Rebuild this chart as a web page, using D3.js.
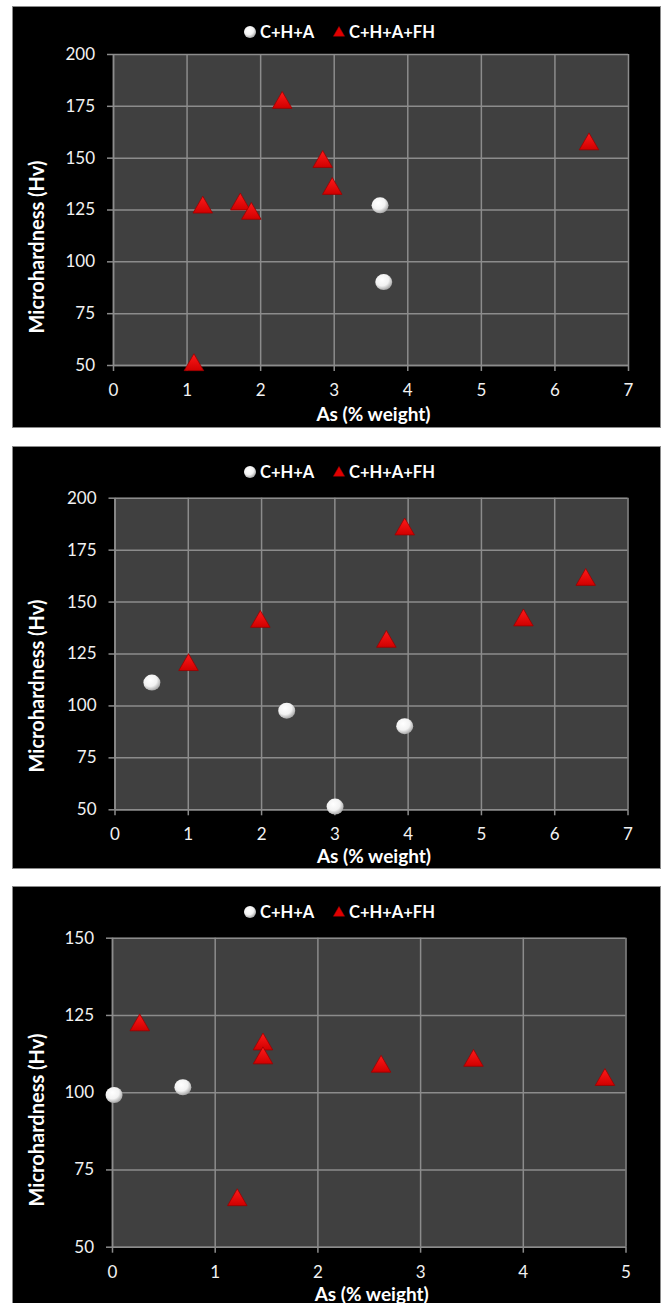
<!DOCTYPE html>
<html>
<head>
<meta charset="utf-8">
<script src="https://cdn.jsdelivr.net/npm/d3@7"></script>
<style>
  body { margin: 0; background: #fff; }
  svg { display: block; }
</style>
</head>
<body>
<div id="chart"></div>
<script>
// legend names
const seriesNames = ["C+H+A", "C+H+A+FH"];

// panel 1
const p1CircleAs = [3.63, 3.68];
const p1CircleHv = [127, 90];
const p1TriAs = [1.1, 1.22, 1.73, 1.88, 2.3, 2.85, 2.98, 6.47];
const p1TriHv = [50, 126, 127.5, 123, 176.5, 148, 135, 156.5];
const p1XTicks = [0, 1, 2, 3, 4, 5, 6, 7];
const p1YTicks = [50, 75, 100, 125, 150, 175, 200];

// panel 2
const p2CircleAs = [0.51, 2.35, 3.01, 3.96];
const p2CircleHv = [111, 97.5, 51.3, 90];
const p2TriAs = [1.01, 1.99, 3.71, 3.96, 5.58, 6.43];
const p2TriHv = [119.5, 140.3, 130.7, 184.8, 141, 160.5];
const p2XTicks = [0, 1, 2, 3, 4, 5, 6, 7];
const p2YTicks = [50, 75, 100, 125, 150, 175, 200];

// panel 3
const p3CircleAs = [0.02, 0.69];
const p3CircleHv = [99.1, 101.6];
const p3TriAs = [0.27, 1.22, 1.47, 1.47, 2.62, 3.52, 4.8];
const p3TriHv = [121.7, 65.1, 115.5, 111, 108.3, 110.2, 104];
const p3XTicks = [0, 1, 2, 3, 4, 5];
const p3YTicks = [50, 75, 100, 125, 150];

const W = 665, H = 1303;
const font = "Lato, 'Open Sans', sans-serif";

const svg = d3.select("#chart").append("svg")
  .attr("width", W).attr("height", H)
  .style("background", "#fff");

const defs = svg.append("defs");
const ballGrad = defs.append("radialGradient").attr("id", "ball")
  .attr("cx", "40%").attr("cy", "35%").attr("r", "65%");
ballGrad.append("stop").attr("offset", "0%").attr("stop-color", "#ffffff");
ballGrad.append("stop").attr("offset", "60%").attr("stop-color", "#f2f2f2");
ballGrad.append("stop").attr("offset", "100%").attr("stop-color", "#a8a8a8");
const triGrad = defs.append("linearGradient").attr("id", "tri")
  .attr("x1", "0").attr("y1", "0").attr("x2", "0").attr("y2", "1");
triGrad.append("stop").attr("offset", "0%").attr("stop-color", "#ff1a1a");
triGrad.append("stop").attr("offset", "100%").attr("stop-color", "#d00000");

const panels = [
  { top: 6, bottom: 427, plot: [113, 628, 54, 365], yTitleY: 247, legendY: 32, tickY: 389, xTitleY: 413,
    xTicks: p1XTicks, yTicks: p1YTicks, cx: p1CircleAs, cy: p1CircleHv, tx: p1TriAs, ty: p1TriHv },
  { top: 446, bottom: 868, plot: [114.5, 627.5, 497.7, 809.3], yTitleY: 686, legendY: 472, tickY: 833, xTitleY: 855,
    xTicks: p2XTicks, yTicks: p2YTicks, cx: p2CircleAs, cy: p2CircleHv, tx: p2TriAs, ty: p2TriHv },
  { top: 886, bottom: 1310, plot: [112, 625.5, 937.7, 1246.7], yTitleY: 1120, legendY: 912, tickY: 1271, xTitleY: 1293,
    xTicks: p3XTicks, yTicks: p3YTicks, cx: p3CircleAs, cy: p3CircleHv, tx: p3TriAs, ty: p3TriHv }
];

const triSym = d3.symbol().type(d3.symbolTriangle).size(165);
const triSymSmall = d3.symbol().type(d3.symbolTriangle).size(55);

panels.forEach((p) => {
  const g = svg.append("g");
  const [x0, x1, y0, y1] = p.plot;

  g.append("rect")
    .attr("x", 12.5).attr("y", p.top + 0.5)
    .attr("width", 648).attr("height", p.bottom - p.top)
    .attr("fill", "#000").attr("stroke", "#8a8a8a").attr("stroke-width", 1);

  const x = d3.scaleLinear().domain(d3.extent(p.xTicks)).range([x0, x1]);
  const y = d3.scaleLinear().domain(d3.extent(p.yTicks)).range([y1, y0]);

  g.append("rect")
    .attr("x", x0).attr("y", y0)
    .attr("width", x1 - x0).attr("height", y1 - y0)
    .attr("fill", "#404040");

  // grid
  g.append("g").attr("transform", `translate(0,${y1})`)
    .call(d3.axisBottom(x).tickValues(p.xTicks).tickSize(-(y1 - y0)).tickFormat(""))
    .call((a) => a.select(".domain").remove())
    .call((a) => a.selectAll("line").attr("stroke", "#8c8c8c").attr("stroke-width", 1.5));
  g.append("g").attr("transform", `translate(${x0},0)`)
    .call(d3.axisLeft(y).tickValues(p.yTicks).tickSize(-(x1 - x0)).tickFormat(""))
    .call((a) => a.select(".domain").remove())
    .call((a) => a.selectAll("line").attr("stroke", "#8c8c8c").attr("stroke-width", 1.5));

  // axes with outer ticks
  const xAxis = g.append("g").attr("transform", `translate(0,${y1})`)
    .call(d3.axisBottom(x).tickValues(p.xTicks).tickFormat(d3.format("d"))
      .tickSize(6).tickPadding(10).tickSizeOuter(0));
  xAxis.select(".domain").attr("stroke", "#8c8c8c").attr("stroke-width", 1.5);
  xAxis.selectAll("line").attr("stroke", "#8c8c8c").attr("stroke-width", 1.5);
  xAxis.selectAll("text").attr("y", null).attr("dy", null)
    .attr("transform", `translate(0,${p.tickY - y1})`)
    .attr("dominant-baseline", "central")
    .attr("fill", "#f2f2f2").style("font", `17px ${font}`);

  const yAxis = g.append("g").attr("transform", `translate(${x0},0)`)
    .call(d3.axisLeft(y).tickValues(p.yTicks).tickFormat(d3.format("d"))
      .tickSize(6).tickPadding(12).tickSizeOuter(0));
  yAxis.select(".domain").attr("stroke", "#8c8c8c").attr("stroke-width", 1.5);
  yAxis.selectAll("line").attr("stroke", "#8c8c8c").attr("stroke-width", 1.5);
  yAxis.selectAll("text").attr("fill", "#f2f2f2").style("font", `17px ${font}`);

  // titles
  g.append("text")
    .attr("x", (x0 + x1) / 2 + 3).attr("y", p.xTitleY)
    .attr("text-anchor", "middle").attr("dominant-baseline", "central")
    .attr("fill", "#fff").style("font", `bold 19px ${font}`)
    .text("As (% weight)");
  g.append("text")
    .attr("transform", `translate(36,${p.yTitleY}) rotate(-90)`)
    .attr("text-anchor", "middle").attr("dominant-baseline", "central")
    .attr("fill", "#fff").style("font", `bold 20px ${font}`)
    .text("Microhardness (Hv)");

  // legend
  const lg = g.append("g").attr("transform", `translate(0,${p.legendY})`);
  lg.append("circle").attr("cx", 250).attr("cy", 0).attr("r", 6).attr("fill", "url(#ball)");
  lg.append("text").attr("x", 260).attr("y", 0).attr("dominant-baseline", "central")
    .attr("fill", "#fff").style("font", `bold 16.5px ${font}`).text(seriesNames[0]);
  lg.append("path").attr("d", triSymSmall).attr("transform", "translate(339,1)")
    .attr("fill", "#e00000").attr("stroke", "#a00000").attr("stroke-width", 0.5);
  lg.append("text").attr("x", 349).attr("y", 0).attr("dominant-baseline", "central")
    .attr("fill", "#fff").style("font", `bold 16.5px ${font}`).text(seriesNames[1]);

  // points
  g.append("g").selectAll("path")
    .data(d3.zip(p.tx, p.ty))
    .join("path")
    .attr("d", triSym)
    .attr("transform", (d) => `translate(${x(d[0])},${y(d[1])})`)
    .attr("fill", "url(#tri)").attr("stroke", "#9a0000").attr("stroke-width", 0.8);

  g.append("g").selectAll("ellipse")
    .data(d3.zip(p.cx, p.cy))
    .join("ellipse")
    .attr("cx", (d) => x(d[0])).attr("cy", (d) => y(d[1]))
    .attr("rx", 8.5).attr("ry", 8)
    .attr("fill", "url(#ball)");
});
</script>
</body>
</html>
